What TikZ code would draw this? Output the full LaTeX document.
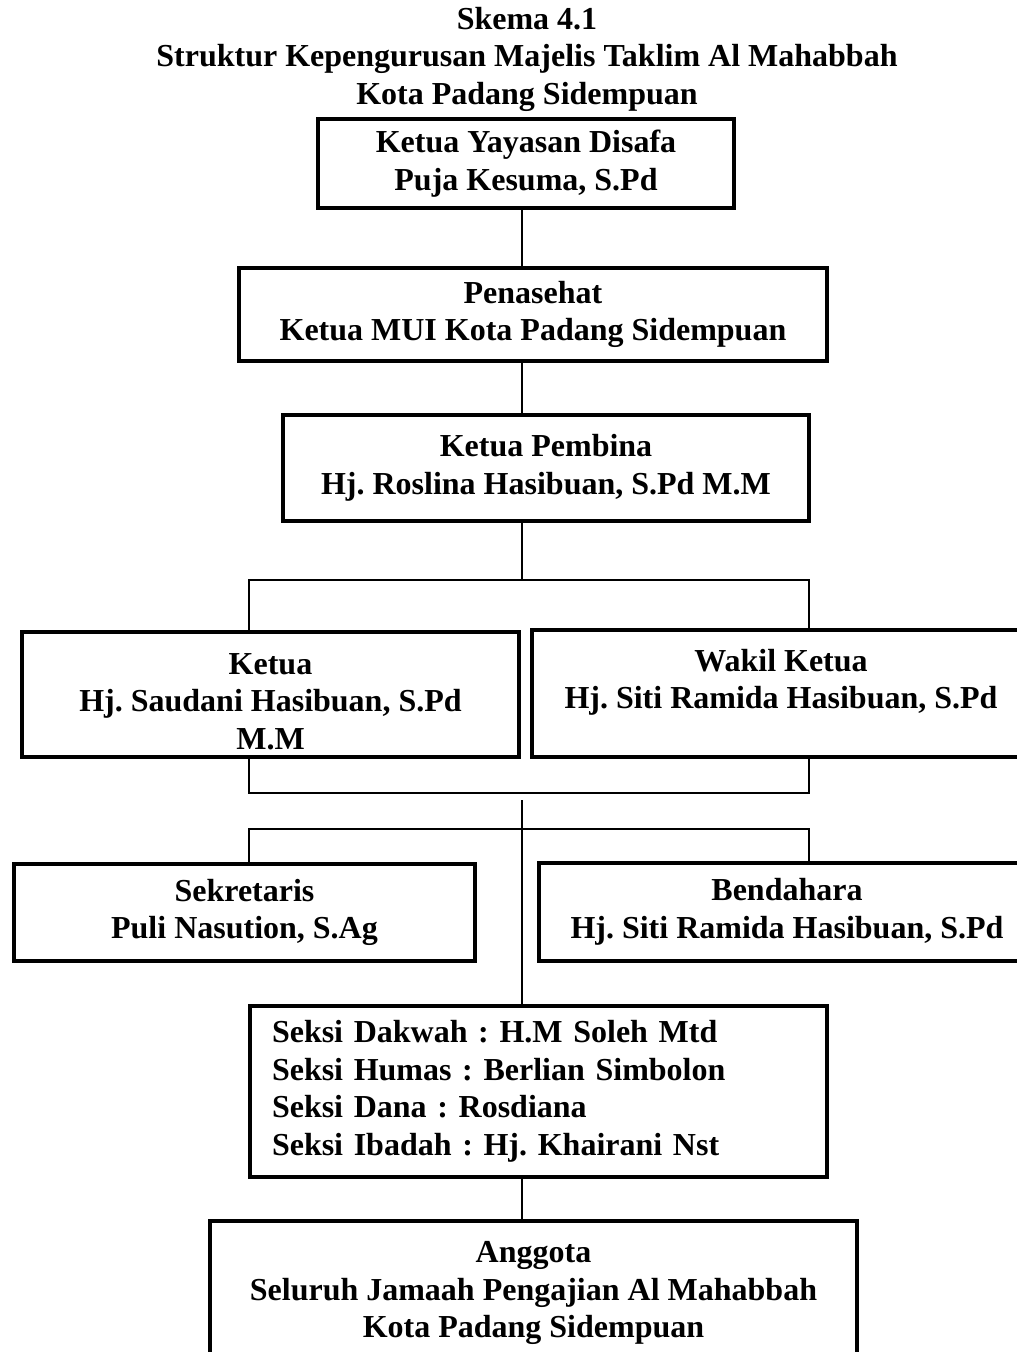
\documentclass[tikz,border=0pt]{standalone}
\usepackage{fontspec}
\setmainfont{Liberation Serif}
\usepackage{tikz}

\begin{document}
\frenchspacing
\begin{tikzpicture}[x=1pt,y=-1pt,
    box/.style={draw,line width=4pt,align=center,inner sep=0pt,
      font=\bfseries\fontsize{32}{37.5}\selectfont},
    link/.style={line width=1.4pt}]
    \useasboundingbox (0,0) rectangle (1017,1352);
    \coordinate (spine) at (522,0);
    \coordinate (left) at (249,0);
    \coordinate (right) at (809,0);

    \node[align=center,font=\bfseries\fontsize{32}{37.5}\selectfont] (title) at (527,59)
      {Skema 4.1\\Struktur Kepengurusan Majelis Taklim Al Mahabbah\\Kota Padang Sidempuan};

    \node[box,minimum width=416pt,minimum height=89pt] (yayasan) at (526,163.5) {Ketua Yayasan Disafa\\Puja Kesuma, S.Pd};
    \node[box,minimum width=588pt,minimum height=93pt] (penasehat) at (533,314.5) {Penasehat\\Ketua MUI Kota Padang Sidempuan};
    \node[box,minimum width=526pt,minimum height=106pt] (pembina) at (546,468) {Ketua Pembina\\Hj. Roslina Hasibuan, S.Pd M.M};
    \node[box,minimum width=497pt,minimum height=125pt,text height=110pt] (ketua) at (270.5,694.5) {Ketua\\Hj. Saudani Hasibuan, S.Pd\\M.M};
    \node[box,minimum width=498pt,minimum height=127pt,text depth=29pt] (wakil) at (781,693.5) {Wakil Ketua\\Hj. Siti Ramida Hasibuan, S.Pd};
    \node[box,minimum width=461pt,minimum height=97pt] (sekretaris) at (244.5,912.5) {Sekretaris\\Puli Nasution, S.Ag};
    \node[box,minimum width=497pt,minimum height=98pt] (bendahara) at (787,912) {Bendahara\\Hj. Siti Ramida Hasibuan, S.Pd};
    \node[box,minimum width=577pt,minimum height=171pt,align=left,text width=533pt] (seksi) at (538.5,1091.5)
      {Seksi Dakwah : H.M Soleh Mtd\\Seksi Humas : Berlian Simbolon\\Seksi Dana : Rosdiana\\Seksi Ibadah : Hj. Khairani Nst};
    \node[box,minimum width=647pt,minimum height=144pt] (anggota) at (533.5,1293) {Anggota\\Seluruh Jamaah Pengajian Al Mahabbah\\Kota Padang Sidempuan};

    % garis hubung
    \draw[link] (yayasan.south -| spine) -- (penasehat.north -| spine);
    \draw[link] (penasehat.south -| spine) -- (pembina.north -| spine);
    \draw[link] (pembina.south -| spine) -- (522,580);
    \draw[link] (ketua.north -| left) -- (249,580) -- (809,580) -- (wakil.north -| right);
    \draw[link] (ketua.south -| left) -- (249,793) -- (809,793) -- (wakil.south -| right);
    \draw[link] (sekretaris.north -| left) -- (249,829) -- (809,829) -- (bendahara.north -| right);
    \draw[link] (522,800) -- (seksi.north -| spine);
    \draw[link] (seksi.south -| spine) -- (anggota.north -| spine);
\end{tikzpicture}
\end{document}
